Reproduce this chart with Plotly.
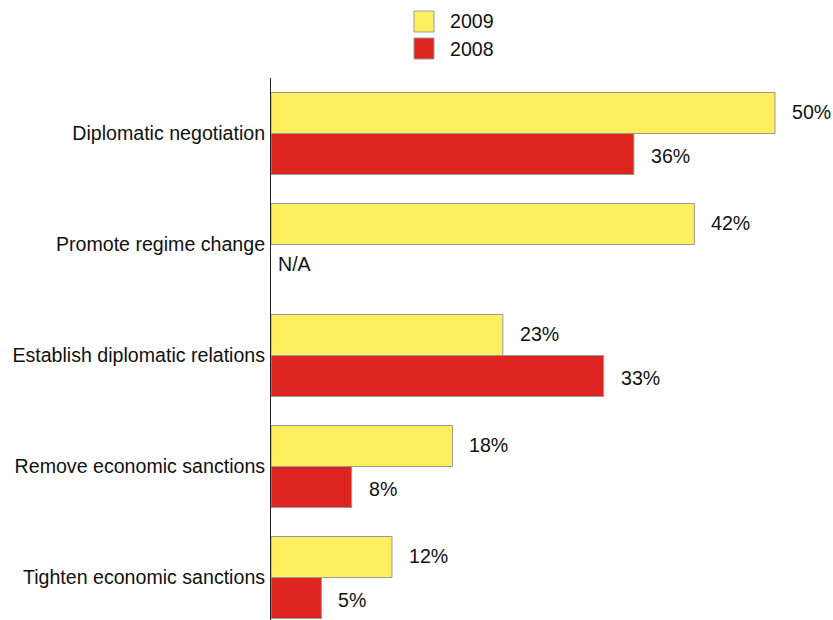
import plotly.graph_objects as go

categories = ["Diplomatic negotiation", "Promote regime change", "Establish diplomatic relations",
              "Remove economic sanctions", "Tighten economic sanctions"]
values_2009 = [50, 42, 23, 18, 12]
values_2008 = [36, None, 33, 8, 5]
series_names = ["2009", "2008"]
na_label = "N/A"

YELLOW = "#FFEE5E"
RED = "#DD2520"
BORDER = "#9A9A9A"
FONT = "Liberation Sans, Arial, sans-serif"
FS = 19.6

W, H = 833, 620
ML, MR, MT, MB = 271, 20, 78, 0
PW, PH = W - ML - MR, H - MT - MB
px_per_unit = 504 / 50.0
band = 111.0
bar_px = 41.0

fig = go.Figure()
fig.add_trace(go.Bar(y=categories, x=values_2009, name=series_names[0], orientation="h",
                     marker=dict(color=YELLOW, line=dict(color=BORDER, width=1)),
                     showlegend=False, hoverinfo="x+y"))
fig.add_trace(go.Bar(y=categories, x=values_2008, name=series_names[1], orientation="h",
                     marker=dict(color=RED, line=dict(color=BORDER, width=1)),
                     showlegend=False, hoverinfo="x+y"))

annotations = []
for cat, v in zip(categories, values_2009):
    annotations.append(dict(x=v, y=cat, xref="x", yref="y", text=f"{v}%", showarrow=False,
                            xanchor="left", yanchor="middle", xshift=15, yshift=bar_px / 2 + 1,
                            font=dict(family=FONT, size=FS, color="#111")))
for cat, v in zip(categories, values_2008):
    if v is None:
        annotations.append(dict(x=0, y=cat, xref="x", yref="y", text=na_label, showarrow=False,
                                xanchor="left", yanchor="middle", xshift=5, yshift=-bar_px / 2 + 1,
                                font=dict(family=FONT, size=FS, color="#111")))
    else:
        annotations.append(dict(x=v, y=cat, xref="x", yref="y", text=f"{v}%", showarrow=False,
                                xanchor="left", yanchor="middle", xshift=15, yshift=-bar_px / 2 - 2,
                                font=dict(family=FONT, size=FS, color="#111")))

# custom legend (20px swatches)
def px2paper_x(px):
    return (px - ML) / PW

def px2paper_y(py):
    return (H - MB - py) / PH

shapes = []
legend_rows = [(series_names[0], YELLOW, 11), (series_names[1], RED, 38)]
for name, col, top in legend_rows:
    shapes.append(dict(type="rect", xref="paper", yref="paper",
                       x0=px2paper_x(414), x1=px2paper_x(434),
                       y0=px2paper_y(top + 21), y1=px2paper_y(top),
                       fillcolor=col, line=dict(color=BORDER, width=1)))
    annotations.append(dict(x=px2paper_x(448), y=px2paper_y(top + 10.5), xref="paper", yref="paper",
                            text=name, showarrow=False, xanchor="left", yanchor="middle",
                            font=dict(family=FONT, size=FS, color="#111")))

fig.update_layout(
    width=W, height=H,
    margin=dict(l=ML, r=MR, t=MT, b=MB, pad=0),
    paper_bgcolor="white", plot_bgcolor="white",
    barmode="group", bargap=1 - 2 * bar_px / band, bargroupgap=0,
    font=dict(family=FONT, size=FS, color="#111"),
    xaxis=dict(range=[0, PW / px_per_unit], visible=False, fixedrange=True),
    yaxis=dict(type="category", categoryorder="array", categoryarray=categories,
               range=[-0.5 + PH / band, -0.5], showline=True, linecolor="#222", linewidth=1,
               ticks="", showgrid=False, zeroline=False, ticklabelstandoff=1,
               tickfont=dict(family=FONT, size=FS, color="#111")),
    annotations=annotations, shapes=shapes,
    showlegend=False,
)
fig.write_html("out.html", config={"displayModeBar": False},
               post_script="document.body.style.margin='0';document.body.style.overflow='hidden';")
